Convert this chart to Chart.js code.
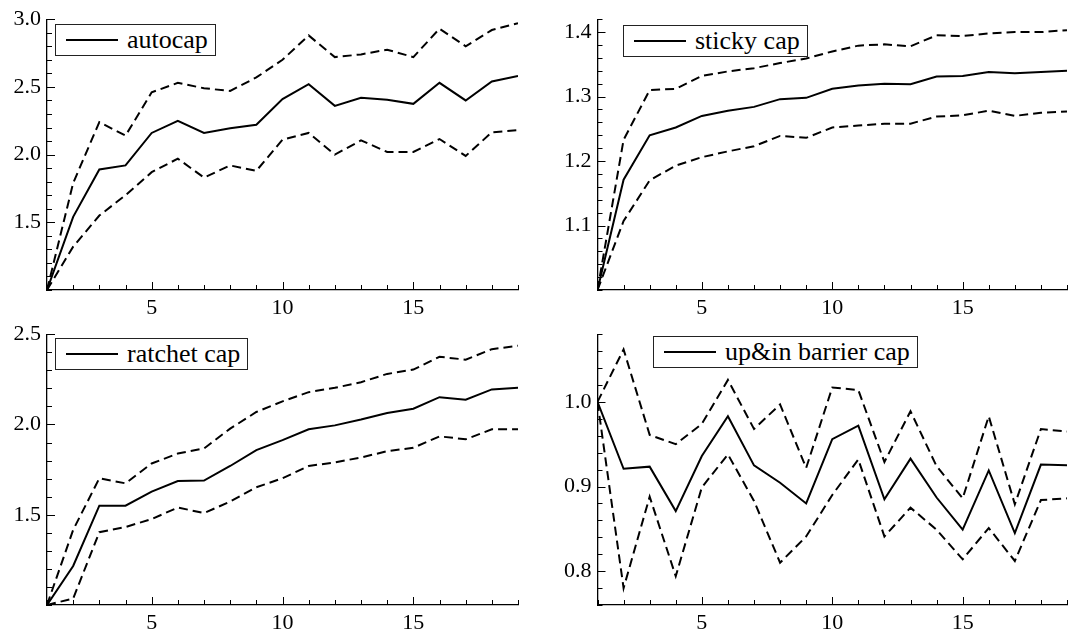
<!DOCTYPE html>
<html>
<head>
<meta charset="utf-8">
<script src="https://cdn.jsdelivr.net/npm/chart.js@4.4.0/dist/chart.umd.min.js"></script>
<style>
  html, body { margin: 0; padding: 0; background: #fff; overflow: hidden; }
  #wrap { position: relative; width: 1088px; height: 633px; }
  canvas { position: absolute; }
  .legend { position: absolute; box-sizing: border-box; height: 32px; border: 1px solid #222; background: #fff;
            display: flex; align-items: center; padding: 0 7px 0 10px;
            font-family: "Liberation Serif", "DejaVu Serif", Times, serif; font-size: 26px;
            color: #000; white-space: nowrap; }
  .legend .swatch { display: inline-block; width: 52px; border-top: 2px solid #000; margin-right: 9px; }
</style>
</head>
<body>
<div id="wrap">
  <canvas id="c1" width="544" height="316" style="left:0;top:0"></canvas>
  <canvas id="c2" width="544" height="316" style="left:544px;top:0"></canvas>
  <canvas id="c3" width="544" height="316" style="left:0;top:315px"></canvas>
  <canvas id="c4" width="544" height="316" style="left:544px;top:315px"></canvas>
</div>
<script>
// x positions (steps)
const steps = [1, 2, 3, 4, 5, 6, 7, 8, 9, 10, 11, 12, 13, 14, 15, 16, 17, 18, 19];

// autocap
const autocapMid  = [1.00, 1.54, 1.89, 1.92, 2.16, 2.25, 2.16, 2.195, 2.22, 2.41, 2.52, 2.36, 2.42, 2.405, 2.375, 2.53, 2.40, 2.54, 2.58];
const autocapHigh = [1.00, 1.79, 2.24, 2.14, 2.46, 2.53, 2.49, 2.47, 2.57, 2.70, 2.88, 2.72, 2.74, 2.775, 2.72, 2.93, 2.80, 2.92, 2.97];
const autocapLow  = [1.00, 1.32, 1.55, 1.70, 1.87, 1.97, 1.83, 1.92, 1.88, 2.11, 2.16, 2.00, 2.105, 2.02, 2.02, 2.115, 1.99, 2.165, 2.18];

// sticky cap
const stickyMid  = [1.00, 1.171, 1.240, 1.252, 1.270, 1.278, 1.284, 1.296, 1.298, 1.312, 1.317, 1.320, 1.319, 1.331, 1.332, 1.338, 1.336, 1.338, 1.340];
const stickyHigh = [1.00, 1.233, 1.310, 1.312, 1.332, 1.339, 1.344, 1.352, 1.359, 1.370, 1.379, 1.381, 1.378, 1.395, 1.394, 1.398, 1.400, 1.400, 1.403];
const stickyLow  = [1.00, 1.107, 1.170, 1.193, 1.206, 1.215, 1.223, 1.239, 1.236, 1.252, 1.255, 1.258, 1.258, 1.269, 1.271, 1.278, 1.270, 1.275, 1.277];

// ratchet cap
const ratchetMid  = [1.00, 1.216, 1.55, 1.55, 1.628, 1.687, 1.689, 1.77, 1.858, 1.913, 1.973, 1.995, 2.027, 2.063, 2.087, 2.151, 2.137, 2.194, 2.203];
const ratchetHigh = [1.00, 1.416, 1.702, 1.674, 1.784, 1.839, 1.867, 1.977, 2.069, 2.128, 2.179, 2.203, 2.234, 2.28, 2.304, 2.375, 2.359, 2.417, 2.436];
const ratchetLow  = [1.00, 1.036, 1.403, 1.432, 1.476, 1.54, 1.509, 1.573, 1.652, 1.702, 1.77, 1.79, 1.817, 1.852, 1.871, 1.934, 1.918, 1.973, 1.973];

// up&in barrier cap
const barrierMid  = [1.000, 0.921, 0.9235, 0.871, 0.936, 0.983, 0.925, 0.9045, 0.880, 0.956, 0.972, 0.885, 0.933, 0.887, 0.849, 0.919, 0.845, 0.926, 0.925];
const barrierHigh = [1.000, 1.062, 0.961, 0.950, 0.974, 1.026, 0.968, 0.997, 0.922, 1.017, 1.014, 0.929, 0.989, 0.924, 0.886, 0.983, 0.879, 0.968, 0.965];
const barrierLow  = [1.000, 0.780, 0.888, 0.794, 0.899, 0.938, 0.883, 0.810, 0.841, 0.890, 0.932, 0.841, 0.875, 0.849, 0.814, 0.851, 0.812, 0.884, 0.886];

const FONT = '"Liberation Serif", "DejaVu Serif", Times, serif';

const pts = (arr) => steps.map((s, i) => ({ x: s, y: arr[i] }));

// ticks drawn inward (minor short, labelled ones longer)
const inwardTicks = {
  id: 'inwardTicks',
  afterDraw(chart) {
    const { ctx, chartArea, scales } = chart;
    ctx.save();
    ctx.strokeStyle = '#000';
    ctx.lineWidth = 1;
    ctx.beginPath();
    scales.x.ticks.forEach(t => {
      const px = Math.round(scales.x.getPixelForValue(t.value)) + 0.5;
      const len = t.label !== '' ? 8 : 5;
      ctx.moveTo(px, chartArea.bottom);
      ctx.lineTo(px, chartArea.bottom - len);
    });
    scales.y.ticks.forEach(t => {
      const py = Math.round(scales.y.getPixelForValue(t.value)) + 0.5;
      const len = t.label !== '' ? 8 : 5;
      ctx.moveTo(chartArea.left, py);
      ctx.lineTo(chartArea.left + len, py);
    });
    ctx.stroke();
    ctx.restore();
  }
};

function makePanel(id, cfg) {
  const canvas = document.getElementById(id);
  const line = (data, dashed) => ({
    data: pts(data),
    borderColor: '#000',
    borderWidth: 2,
    borderDash: dashed ? [9, 5] : [],
    pointRadius: 0,
    tension: 0,
    fill: false
  });
  const ds = [
    Object.assign(line(cfg.mid, false), { label: cfg.name }),
    Object.assign(line(cfg.high, true), { label: '' }),
    Object.assign(line(cfg.low, true), { label: '' })
  ];

  const chart = new Chart(canvas, {
    type: 'line',
    data: { datasets: ds },
    options: {
      responsive: false,
      animation: false,
      layout: { padding: { top: 18, right: cfg.padRight, left: 0, bottom: 0 } },
      plugins: { legend: { display: false }, tooltip: { enabled: false } },
      scales: {
        x: {
          type: 'linear', min: 1, max: 19,
          grid: { display: false, drawTicks: false },
          border: { display: true, color: '#000', width: 1.3 },
          ticks: {
            stepSize: 1, autoSkip: false, maxRotation: 0, padding: 5, color: '#000',
            font: { family: FONT, size: 22 },
            callback: v => (v % 5 === 0 ? String(v) : '')
          },
          afterFit: s => { s.height = 26; }
        },
        y: {
          type: 'linear', min: cfg.min, max: cfg.max,
          grid: { display: false, drawTicks: false },
          border: { display: true, color: '#000', width: 1.3 },
          ticks: {
            stepSize: cfg.step, autoSkip: false, padding: 6, color: '#000',
            font: { family: FONT, size: 22 },
            callback: v => {
              const k = Math.round(v * 100);
              if (k % cfg.labelEvery === 0 && k !== cfg.skip) return (k / 100).toFixed(1);
              return '';
            }
          },
          afterFit: s => { s.width = cfg.axisWidth; }
        }
      }
    },
    plugins: [inwardTicks]
  });

  // legend box, only the solid series is listed
  const lg = document.createElement('div');
  lg.className = 'legend';
  lg.style.left = cfg.legend[0] + 'px';
  lg.style.top = cfg.legend[1] + 'px';
  lg.innerHTML = '<span class="swatch"></span><span></span>';
  lg.lastChild.textContent = chart.data.datasets[0].label;
  document.getElementById('wrap').appendChild(lg);
  return chart;
}

makePanel('c1', { name: 'autocap', mid: autocapMid, high: autocapHigh, low: autocapLow,
  min: 1.0, max: 3.0, step: 0.1, labelEvery: 50, skip: 100, axisWidth: 47, padRight: 26, legend: [55, 24] });
makePanel('c2', { name: 'sticky cap', mid: stickyMid, high: stickyHigh, low: stickyLow,
  min: 1.0, max: 1.42, step: 0.02, labelEvery: 10, skip: 100, axisWidth: 53.5, padRight: 21, legend: [623, 25] });
makePanel('c3', { name: 'ratchet cap', mid: ratchetMid, high: ratchetHigh, low: ratchetLow,
  min: 1.0, max: 2.5, step: 0.1, labelEvery: 50, skip: 100, axisWidth: 47, padRight: 26, legend: [55, 338] });
makePanel('c4', { name: 'up&in barrier cap', mid: barrierMid, high: barrierHigh, low: barrierLow,
  min: 0.76, max: 1.08, step: 0.02, labelEvery: 10, skip: -1, axisWidth: 53.5, padRight: 21, legend: [653, 336] });
</script>
</body>
</html>
